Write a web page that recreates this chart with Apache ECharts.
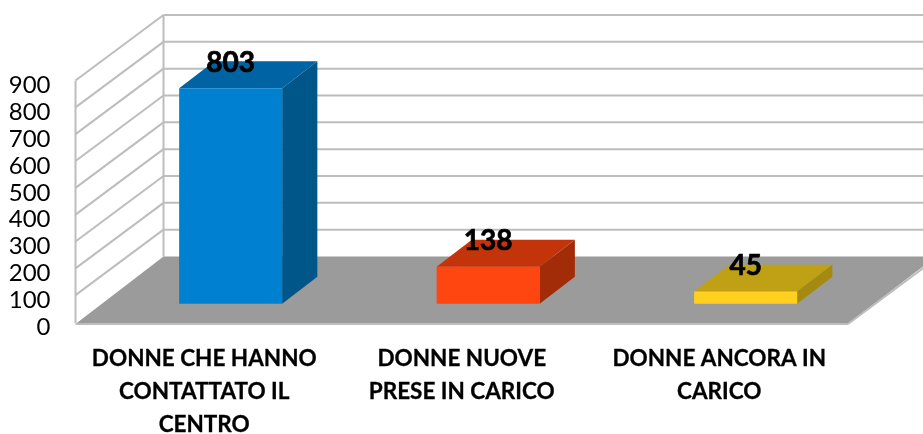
<!DOCTYPE html>
<html>
<head>
<meta charset="utf-8">
<style>html,body{margin:0;padding:0;background:#fff}#c{width:923px;height:434px}</style>
<script src="https://cdn.jsdelivr.net/npm/echarts@6/dist/echarts.min.js"></script>
</head>
<body>
<div id="c"></div>
<script>
const categories = ['DONNE CHE HANNO\nCONTATTATO IL\nCENTRO', 'DONNE NUOVE\nPRESE IN CARICO', 'DONNE ANCORA IN\nCARICO'];
const values = [803, 138, 45];
const yTicks = [100, 200, 300, 400, 500, 600, 700, 800, 900];
const frontColors = ['#0080d0', '#ff4510', '#ffd020'];
const topColors = ['#0064a4', '#c4340a', '#c0a014'];
const sideColors = ['#005688', '#a22b08', '#a48a10'];

const DX = 88, DY = -65.5;
const FONT = 'Lato';

function poly(points, fill) {
  return { type: 'polygon', shape: { points }, style: { fill }, silent: true };
}
function seg(a, b) {
  return { type: 'line', shape: { x1: a[0], y1: a[1], x2: b[0], y2: b[1] },
    style: { stroke: '#bdbdbd', lineWidth: 2 }, silent: true };
}

const chart = echarts.init(document.getElementById('c'), null, { renderer: 'canvas' });
chart.setOption({
  animation: false,
  backgroundColor: '#fff',
  grid: { left: 75.5, top: 80.5, width: 772.5, height: 241.5, outerBoundsMode: 'none' },
  xAxis: {
    type: 'category', data: categories,
    axisLine: { show: false }, axisTick: { show: false }, splitLine: { show: false },
    axisLabel: { interval: 0, margin: 20, color: '#000', fontFamily: FONT, fontWeight: 'bold', fontSize: 22.5, lineHeight: 33, textBorderColor: '#000', textBorderWidth: 0.3 }
  },
  yAxis: {
    type: 'value', min: 0, max: 900, interval: 100,
    axisLine: { show: false }, axisTick: { show: false }, splitLine: { show: false },
    axisLabel: { margin: 25, color: '#000', fontFamily: FONT, fontSize: 24, verticalAlign: 'top', lineHeight: 10 }
  },
  series: [
    {
      type: 'custom', coordinateSystem: 'cartesian2d', clip: false, z: 1,
      data: [[0, 0]], encode: { x: 0, y: 1 },
      renderItem(params, api) {
        const cs = params.coordSys;
        const y0 = api.coord([0, 0])[1];
        const xl = cs.x, xr = cs.x + cs.width;
        const top = api.coord([0, yTicks[yTicks.length - 1]])[1];
        return { type: 'group', children: [
          seg([xl, top], [xl, y0 + 1]),
          seg([xl + DX, top + DY], [xl + DX, y0 + DY]),
          poly([[xl, y0 + 2], [xr, y0 + 2], [xr + DX, y0 + DY], [xl + DX, y0 + DY]], '#9b9b9b'),
          seg([xl, y0 + 2], [xr, y0 + 2]),
          seg([xr, y0 + 2], [xr + DX, y0 + DY + 2])
        ] };
      }
    },
    {
      type: 'custom', coordinateSystem: 'cartesian2d', clip: false, z: 2,
      data: yTicks.map(t => [0, t]), encode: { x: 0, y: 1 },
      renderItem(params, api) {
        const cs = params.coordSys;
        const y = api.coord([0, api.value(1)])[1];
        const xl = cs.x, xr = cs.x + cs.width;
        return { type: 'group', children: [
          seg([xl, y], [xl + DX, y + DY]),
          seg([xl + DX, y + DY], [xr + DX, y + DY])
        ] };
      }
    },
    {
      type: 'custom', coordinateSystem: 'cartesian2d', clip: false, z: 3,
      data: values.map((v, i) => [i, v]), encode: { x: 0, y: 1 },
      renderItem(params, api) {
        const i = api.value(0), v = api.value(1);
        const band = api.size([1, 0])[0];
        const hw = band * 0.2;
        const c0 = api.coord([i, 0]), c1 = api.coord([i, v]);
        const ox = DX * 0.3, oy = DY * 0.28;  // where the bar sits in the floor depth
        const bx = DX * 0.4, by = DY * 0.41;  // how deep the bar is
        const l = c0[0] - hw + ox, r = c0[0] + hw + ox;
        const b = c0[1] + oy, t = c1[1] + oy;
        return { type: 'group', children: [
          poly([[l, t], [r, t], [r + bx, t + by], [l + bx, t + by]], topColors[i]),
          poly([[r, t], [r + bx, t + by], [r + bx, b + by], [r, b]], sideColors[i]),
          poly([[l, t], [r, t], [r, b], [l, b]], frontColors[i]),
          { type: 'text', silent: true, z2: 10, style: {
              x: c0[0] + ox, y: t - 25.5, text: String(v), align: 'center', verticalAlign: 'middle',
              fill: '#000', stroke: '#000', lineWidth: 0.7, fontFamily: FONT, fontWeight: 'bold', fontSize: 28 } }
        ] };
      }
    }
  ]
});
</script>
</body>
</html>
